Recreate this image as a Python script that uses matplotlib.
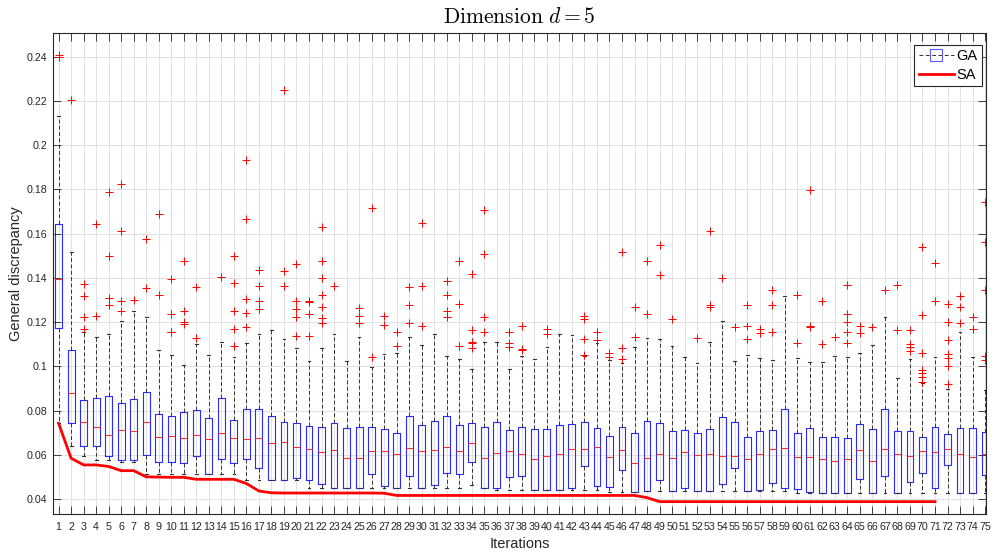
import matplotlib
matplotlib.use("Agg")
import matplotlib.pyplot as plt
from matplotlib.lines import Line2D

plt.rcParams['font.family'] = ['Liberation Sans', 'DejaVu Sans']
plt.rcParams['mathtext.fontset'] = 'cm'
plt.rcParams['axes.axisbelow'] = True

# GA runs: per-iteration box statistics
ga_whislo = [0.0745, 0.0641, 0.0595, 0.0576, 0.0576, 0.0567, 0.0567, 0.0513, 0.0513, 0.0513,
             0.0513, 0.0513, 0.0513, 0.0513, 0.0513, 0.0486, 0.0486, 0.0486, 0.0486, 0.0486,
             0.0451, 0.0451, 0.0451, 0.0451, 0.0451, 0.0451, 0.0451, 0.0451, 0.0451, 0.0451,
             0.0451, 0.0451, 0.0451, 0.0463, 0.0451, 0.0441, 0.0441, 0.0441, 0.0441, 0.0441,
             0.0441, 0.0441, 0.0441, 0.0441, 0.0433, 0.0433, 0.0433, 0.0436, 0.0436, 0.0436,
             0.0436, 0.0436, 0.0436, 0.0436, 0.0436, 0.0436, 0.0436, 0.0436, 0.0436, 0.0429,
             0.0429, 0.0429, 0.0429, 0.0429, 0.0429, 0.0429, 0.0429, 0.0429, 0.0429, 0.0429,
             0.0429, 0.0429, 0.0429, 0.0429, 0.0429]
ga_q1 = [0.1172, 0.0742, 0.0640, 0.0640, 0.0595, 0.0576, 0.0576, 0.0599, 0.0566, 0.0569,
         0.0563, 0.0593, 0.0513, 0.0579, 0.0561, 0.0581, 0.0542, 0.0486, 0.0486, 0.0494,
         0.0486, 0.0468, 0.0451, 0.0451, 0.0451, 0.0513, 0.0459, 0.0451, 0.0506, 0.0451,
         0.0462, 0.0519, 0.0513, 0.0566, 0.0451, 0.0451, 0.0498, 0.0504, 0.0441, 0.0441,
         0.0441, 0.0448, 0.0551, 0.0459, 0.0456, 0.0531, 0.0433, 0.0436, 0.0486, 0.0436,
         0.0448, 0.0436, 0.0436, 0.0468, 0.0542, 0.0436, 0.0441, 0.0474, 0.0448, 0.0445,
         0.0433, 0.0429, 0.0429, 0.0429, 0.0489, 0.0429, 0.0504, 0.0429, 0.0478, 0.0516,
         0.0448, 0.0554, 0.0429, 0.0429, 0.0509]
ga_median = [0.1394, 0.0881, 0.0750, 0.0724, 0.0691, 0.0712, 0.0706, 0.0748, 0.0682, 0.0685,
             0.0676, 0.0690, 0.0673, 0.0697, 0.0675, 0.0671, 0.0675, 0.0655, 0.0656, 0.0634,
             0.0626, 0.0611, 0.0622, 0.0587, 0.0587, 0.0616, 0.0619, 0.0602, 0.0631, 0.0619,
             0.0622, 0.0637, 0.0616, 0.0652, 0.0587, 0.0610, 0.0619, 0.0602, 0.0579, 0.0595,
             0.0602, 0.0625, 0.0625, 0.0637, 0.0589, 0.0622, 0.0564, 0.0587, 0.0604, 0.0587,
             0.0613, 0.0598, 0.0605, 0.0596, 0.0596, 0.0579, 0.0602, 0.0626, 0.0631, 0.0592,
             0.0589, 0.0581, 0.0572, 0.0579, 0.0622, 0.0572, 0.0626, 0.0602, 0.0596, 0.0619,
             0.0611, 0.0625, 0.0602, 0.0592, 0.0602]
ga_q3 = [0.1643, 0.1074, 0.0848, 0.0855, 0.0866, 0.0833, 0.0851, 0.0883, 0.0786, 0.0777,
         0.0795, 0.0803, 0.0765, 0.0855, 0.0757, 0.0809, 0.0806, 0.0773, 0.0747, 0.0742,
         0.0732, 0.0727, 0.0745, 0.0720, 0.0724, 0.0724, 0.0718, 0.0697, 0.0773, 0.0736,
         0.0754, 0.0777, 0.0735, 0.0745, 0.0727, 0.0750, 0.0712, 0.0727, 0.0718, 0.0715,
         0.0733, 0.0738, 0.0747, 0.0720, 0.0687, 0.0724, 0.0697, 0.0754, 0.0742, 0.0706,
         0.0712, 0.0697, 0.0717, 0.0770, 0.0747, 0.0682, 0.0709, 0.0712, 0.0807, 0.0700,
         0.0720, 0.0679, 0.0679, 0.0676, 0.0739, 0.0715, 0.0807, 0.0709, 0.0706, 0.0679,
         0.0724, 0.0693, 0.0723, 0.0720, 0.0705]
ga_whishi = [0.2133, 0.1516, 0.1156, 0.1132, 0.1144, 0.1207, 0.1249, 0.1222, 0.1073, 0.1052,
             0.1005, 0.1103, 0.1049, 0.1109, 0.1044, 0.1104, 0.1145, 0.1166, 0.1124, 0.1082,
             0.1024, 0.1082, 0.1147, 0.1026, 0.1132, 0.0996, 0.1056, 0.1059, 0.1132, 0.1095,
             0.1145, 0.1046, 0.1032, 0.0988, 0.1112, 0.1112, 0.0987, 0.1047, 0.1035, 0.1086,
             0.1147, 0.1142, 0.1047, 0.1104, 0.1029, 0.1017, 0.1086, 0.1127, 0.1124, 0.1092,
             0.1044, 0.1017, 0.1112, 0.1207, 0.1022, 0.1052, 0.1037, 0.1029, 0.1320, 0.1037,
             0.1021, 0.1021, 0.1047, 0.1041, 0.1062, 0.1097, 0.1225, 0.0946, 0.1033, 0.0923,
             0.1041, 0.0896, 0.1154, 0.1044, 0.0893]
ga_outliers = [
    [0.2409, 0.2398], [0.2205], [0.1373, 0.1316, 0.1225, 0.1169], [0.1643, 0.1228],
    [0.1786, 0.1501, 0.1311, 0.1276], [0.1825, 0.1613, 0.1293, 0.1251], [0.1300],
    [0.1576, 0.1353], [0.1690, 0.1323], [0.1395, 0.1237, 0.1157, 0.1153],
    [0.1478, 0.1252, 0.1202, 0.1192], [0.1358, 0.1129], [], [0.1406],
    [0.1501, 0.1376, 0.1251, 0.1169, 0.1092], [0.1934, 0.1665, 0.1303, 0.1239, 0.1177],
    [0.1436, 0.1361, 0.1293, 0.1258], [], [0.2249, 0.1433, 0.1365],
    [0.1463, 0.1297, 0.1260, 0.1222, 0.1139], [0.1297, 0.1290, 0.1237, 0.1139],
    [0.1629, 0.1478, 0.1399, 0.1323, 0.1270, 0.1218, 0.1198], [0.1365], [],
    [0.1263, 0.1228, 0.1195], [0.1715, 0.1041], [0.1228, 0.1187], [0.1153, 0.1094],
    [0.1358, 0.1275, 0.1195], [0.1647, 0.1365, 0.1183], [], [0.1386, 0.1323, 0.1248, 0.1222],
    [0.1478, 0.1282, 0.1092], [0.1418, 0.1162, 0.1112, 0.1104, 0.1082],
    [0.1708, 0.1509, 0.1222, 0.1157], [], [0.1153, 0.1104, 0.1086], [0.1184, 0.1077, 0.1072],
    [], [0.1168, 0.1147], [], [], [0.1228, 0.1213, 0.1124, 0.1052], [0.1157, 0.1119],
    [0.1062, 0.1044], [0.1516, 0.1082, 0.1033], [0.1267, 0.1132], [0.1474, 0.1237],
    [0.1549, 0.1414], [0.1213], [], [0.1127], [0.1610, 0.1275, 0.1266], [0.1399], [0.1177],
    [0.1278, 0.1184, 0.1122], [0.1169, 0.1150], [0.1343, 0.1278, 0.1153], [],
    [0.1323, 0.1107], [0.1798, 0.1184, 0.1177], [0.1293, 0.1101], [0.1132],
    [0.1368, 0.1237, 0.1199, 0.1157, 0.1104], [0.1180, 0.1150], [0.1177], [0.1343],
    [0.1368, 0.1162], [0.1165, 0.1101, 0.1086, 0.1071],
    [0.1539, 0.1230, 0.1062, 0.0984, 0.0969, 0.0951, 0.0928], [0.1469, 0.1297],
    [0.1282, 0.1199, 0.1119, 0.1056, 0.1036, 0.1003, 0.0920], [0.1316, 0.1266, 0.1195],
    [0.1222, 0.1169], [0.1741, 0.1560, 0.1346, 0.1047, 0.1029],
]

# SA best discrepancy per iteration (run stops at iteration 71)
sa_values = [0.0742, 0.0584, 0.0554, 0.0554, 0.0547, 0.0528, 0.0528, 0.0500, 0.0499, 0.0498,
             0.0498, 0.0489, 0.0489, 0.0489, 0.0489, 0.0470, 0.0436, 0.0428, 0.0427, 0.0427,
             0.0427, 0.0427, 0.0427, 0.0427, 0.0427, 0.0427, 0.0426, 0.0416, 0.0416, 0.0416,
             0.0416, 0.0416, 0.0416, 0.0416, 0.0416, 0.0416, 0.0416, 0.0416, 0.0416, 0.0416,
             0.0416, 0.0416, 0.0416, 0.0416, 0.0416, 0.0416, 0.0416, 0.0406, 0.0388, 0.0388,
             0.0388, 0.0388, 0.0388, 0.0388, 0.0388, 0.0388, 0.0388, 0.0388, 0.0388, 0.0388,
             0.0388, 0.0388, 0.0388, 0.0388, 0.0388, 0.0388, 0.0388, 0.0388, 0.0388, 0.0388,
             0.0388]

y_ticks = [0.04, 0.06, 0.08, 0.1, 0.12, 0.14, 0.16, 0.18, 0.2, 0.22, 0.24]


def plot_results():
    """Boxplots of GA discrepancy per iteration with the SA curve on top."""
    iterations = list(range(1, len(ga_median) + 1))
    stats = []
    for i in range(len(ga_median)):
        stats.append(dict(whislo=ga_whislo[i], q1=ga_q1[i], med=ga_median[i],
                          q3=ga_q3[i], whishi=ga_whishi[i], fliers=ga_outliers[i]))

    figure = plt.figure(figsize=(9.92, 5.56), dpi=100)
    axis = figure.add_axes([0.0534, 0.0755, 0.9405, 0.8651])

    axis.bxp(stats, positions=iterations, widths=0.55, capwidths=0.22,
             showfliers=True, manage_ticks=False,
             boxprops=dict(color='#2a2aff', linewidth=0.8),
             medianprops=dict(color='#ff3030', linewidth=0.8),
             whiskerprops=dict(color='#333333', linewidth=0.7, linestyle=(0, (4, 2.5))),
             capprops=dict(color='#333333', linewidth=0.8),
             flierprops=dict(marker='+', markeredgecolor='red', markersize=5.5,
                             markeredgewidth=0.7, linestyle='none'))

    axis.plot(iterations[:len(sa_values)], sa_values, color='red', linewidth=2.0, zorder=4)

    axis.set_xlim(0.55, 75.07)
    axis.set_ylim(0.0332, 0.2507)
    axis.set_xticks(iterations)
    axis.set_xticklabels([str(i) for i in iterations])
    axis.set_yticks(y_ticks)
    axis.set_yticklabels(['{:g}'.format(v) for v in y_ticks])

    axis.grid(True, color='#e1e1e1', linewidth=0.7)
    for spine in axis.spines.values():
        spine.set_color('#262626')
        spine.set_linewidth(0.8)
    axis.tick_params(axis='both', direction='in', length=5.5, width=0.6, color='#262626',
                     labelsize=7.7, labelcolor='#262626', top=True, right=True)
    axis.tick_params(axis='x', pad=6.0)
    axis.tick_params(axis='y', pad=3.8)

    axis.set_xlabel('Iterations', fontsize=10.5, color='#262626')
    axis.set_ylabel('General discrepancy', fontsize=10.5, color='#262626')
    axis.xaxis.set_label_coords(0.5, -0.048)
    axis.yaxis.set_label_coords(-0.032, 0.5)
    axis.set_title(r'$\mathrm{Dimension}\ d = 5$', fontsize=15.5, pad=7)

    handles = [Line2D([], [], color='#333333', linewidth=0.7, linestyle=(0, (4, 2.5)),
                      marker='s', markersize=8, markerfacecolor='none',
                      markeredgecolor='#5a5aff', markeredgewidth=0.8),
               Line2D([], [], color='red', linewidth=2.0)]
    legend = axis.legend(handles, ['GA', 'SA'], loc='upper right',
                         bbox_to_anchor=(0.9957, 0.975), borderaxespad=0,
                         fontsize=10.5, handlelength=2.4, handletextpad=0.2,
                         borderpad=0.3, labelspacing=0.3, fancybox=False,
                         framealpha=1, edgecolor='#262626')
    legend.get_frame().set_linewidth(0.8)

    figure.savefig('out.png', dpi=100)
    plt.close(figure)


if __name__ == "__main__":
    plot_results()
